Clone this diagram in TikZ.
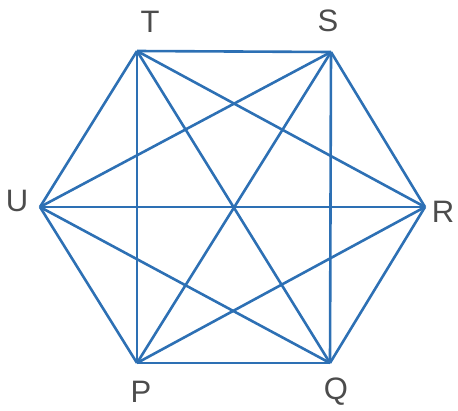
\documentclass[tikz,border=0pt]{standalone}
\usepackage{fontspec}
\setmainfont{Liberation Sans}
\usetikzlibrary{positioning}
\definecolor{hexblue}{RGB}{45,112,180}

\begin{document}
\begin{tikzpicture}[x=1pt, y=-1pt,
    edge/.style={draw=hexblue, line width=2.6pt, line join=round},
    vlabel/.style={text=black!70, font=\fontsize{31}{33}\selectfont, inner sep=0pt}]

    \useasboundingbox (0,0) rectangle (458,410);

    % vertices of the hexagon
    \coordinate (T) at (137,51);
    \coordinate (S) at (331,52);
    \coordinate (R) at (425,207);
    \coordinate (Q) at (330,363);
    \coordinate (P) at (137,363);
    \coordinate (U) at (40,207);

    % all sides and diagonals
    \foreach \a/\b in {T/S, T/R, T/Q, T/P, T/U, S/R, S/Q, S/P, S/U,
                       R/Q, R/P, R/U, Q/P, Q/U, P/U}
        \path [edge] (\a) -- (\b);

    \node [vlabel] (labT) at (150,22) {T};
    \node [vlabel] (labS) at (328,21) {S};
    \node [vlabel] (labR) at (443,212) {R};
    \node [vlabel] (labQ) at (336,392) {Q};
    \node [vlabel] (labP) at (141,392) {P};
    \node [vlabel] (labU) at (17,201) {U};
\end{tikzpicture}
\end{document}
